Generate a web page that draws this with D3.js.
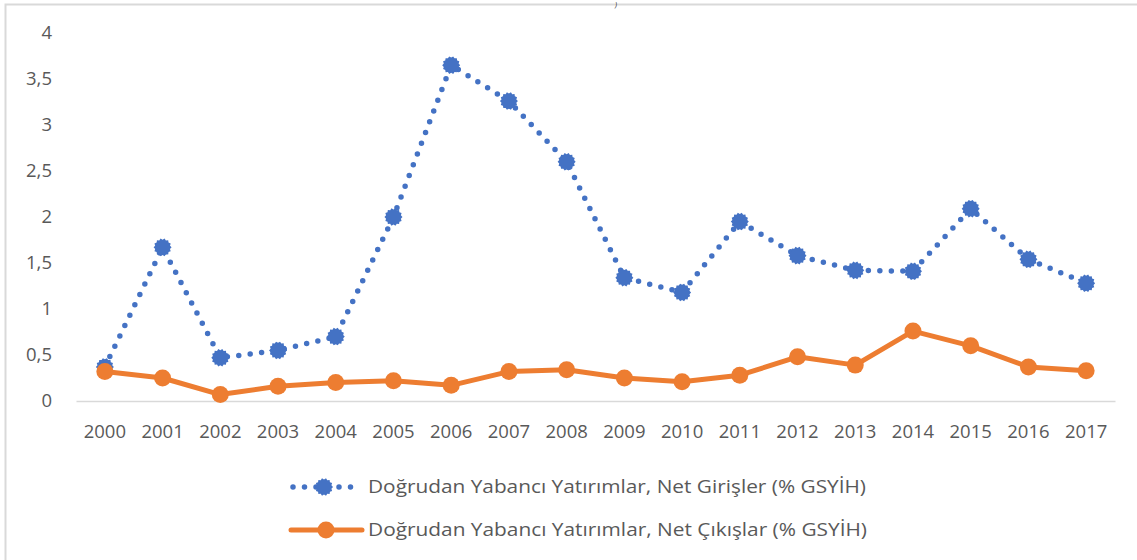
<!DOCTYPE html>
<html><head><meta charset="utf-8">
<script src="https://cdn.jsdelivr.net/npm/d3@7"></script>
<style>body{margin:0;background:#fff}svg{display:block}text{font-family:"Open Sans","Noto Sans",sans-serif;fill:#595959}</style>
</head><body><svg id="c" width="1137" height="560"></svg>
<script>
const years = ["2000","2001","2002","2003","2004","2005","2006","2007","2008","2009","2010","2011","2012","2013","2014","2015","2016","2017"];
const inflows = [0.37,1.67,0.47,0.55,0.70,2.00,3.65,3.26,2.60,1.34,1.18,1.95,1.58,1.42,1.41,2.09,1.54,1.28];
const outflows = [0.32,0.25,0.07,0.16,0.20,0.22,0.17,0.32,0.34,0.25,0.21,0.28,0.48,0.39,0.76,0.60,0.37,0.33];
const yTicks = [0,0.5,1,1.5,2,2.5,3,3.5,4];
const seriesNames = ["Doğrudan Yabancı Yatırımlar, Net Girişler (% GSYİH)","Doğrudan Yabancı Yatırımlar, Net Çıkışlar (% GSYİH)"];

const svg = d3.select("#c");
const blue = "#4472C4", orange = "#ED7D31";
// border
svg.append("path").attr("d","M5.5,560 V4.5 H1137").attr("fill","none").attr("stroke","#d9d9d9").attr("stroke-width",2);
svg.append("text").attr("x",615).attr("y",7).attr("font-size",7).style("fill","#222").attr("font-style","italic").text(")");

const x = d3.scaleBand().domain(years).range([76,1115]);
const y = d3.scaleLinear().domain([0,4]).range([401,33]);
const fmt = v => String(v).replace(".",",");

const yAxis = svg.append("g").attr("transform","translate(60,0)").call(d3.axisLeft(y).tickValues(yTicks).tickFormat(fmt).tickSize(0).tickPadding(8));
yAxis.select(".domain").remove();
yAxis.selectAll("text").attr("font-size",18.5).style("fill","#595959").attr("font-family",null);

const xAxis = svg.append("g").attr("transform","translate(0,401)").call(d3.axisBottom(x).tickSize(0).tickPadding(24));
xAxis.select(".domain").attr("stroke","#d9d9d9").attr("stroke-width",1.5);
xAxis.selectAll("text").attr("font-size",18.5).style("fill","#595959").attr("font-family",null);

const cx = d => x(d) + x.bandwidth()/2;
const line = d3.line().x((d,i)=>cx(years[i])).y(d=>y(d));

function gear(r1,r2,n){
  const pts=[];
  for(let i=0;i<2*n;i++){const a=i*Math.PI/n;const r=i%2?r2:r1;pts.push([r*Math.cos(a),r*Math.sin(a)]);}
  return "M"+pts.map(p=>p.join(",")).join("L")+"Z";
}

svg.append("path").datum(inflows).attr("d",line).attr("fill","none").attr("stroke",blue)
  .attr("stroke-width",5.5).attr("stroke-linecap","round").attr("stroke-dasharray","0 11.5");
svg.append("g").selectAll("path").data(inflows).join("path")
  .attr("transform",(d,i)=>`translate(${cx(years[i])},${y(d)})`).attr("d",gear(9,7.6,14)).attr("fill",blue);

svg.append("path").datum(outflows).attr("d",line).attr("fill","none").attr("stroke",orange)
  .attr("stroke-width",5).attr("stroke-linejoin","round");
svg.append("g").selectAll("circle").data(outflows).join("circle")
  .attr("cx",(d,i)=>cx(years[i])).attr("cy",d=>y(d)).attr("r",8.5).attr("fill",orange);

// legend
const lg = svg.append("g");
lg.append("line").attr("x1",293).attr("x2",356).attr("y1",487).attr("y2",487).attr("stroke",blue)
  .attr("stroke-width",5.5).attr("stroke-linecap","round").attr("stroke-dasharray","0 11.5");
lg.append("path").attr("transform","translate(324,487)").attr("d",gear(9,7.6,14)).attr("fill",blue);
lg.append("text").attr("x",368).attr("y",487).attr("dy","0.35em").attr("font-size",18.5).attr("textLength",498).attr("lengthAdjust","spacingAndGlyphs").text(seriesNames[0]);
lg.append("line").attr("x1",291).attr("x2",362).attr("y1",530).attr("y2",530).attr("stroke",orange).attr("stroke-width",5).attr("stroke-linecap","round");
lg.append("circle").attr("cx",326).attr("cy",530).attr("r",8.5).attr("fill",orange);
lg.append("text").attr("x",368).attr("y",530).attr("dy","0.35em").attr("font-size",18.5).attr("textLength",499).attr("lengthAdjust","spacingAndGlyphs").text(seriesNames[1]);
</script></body></html>
